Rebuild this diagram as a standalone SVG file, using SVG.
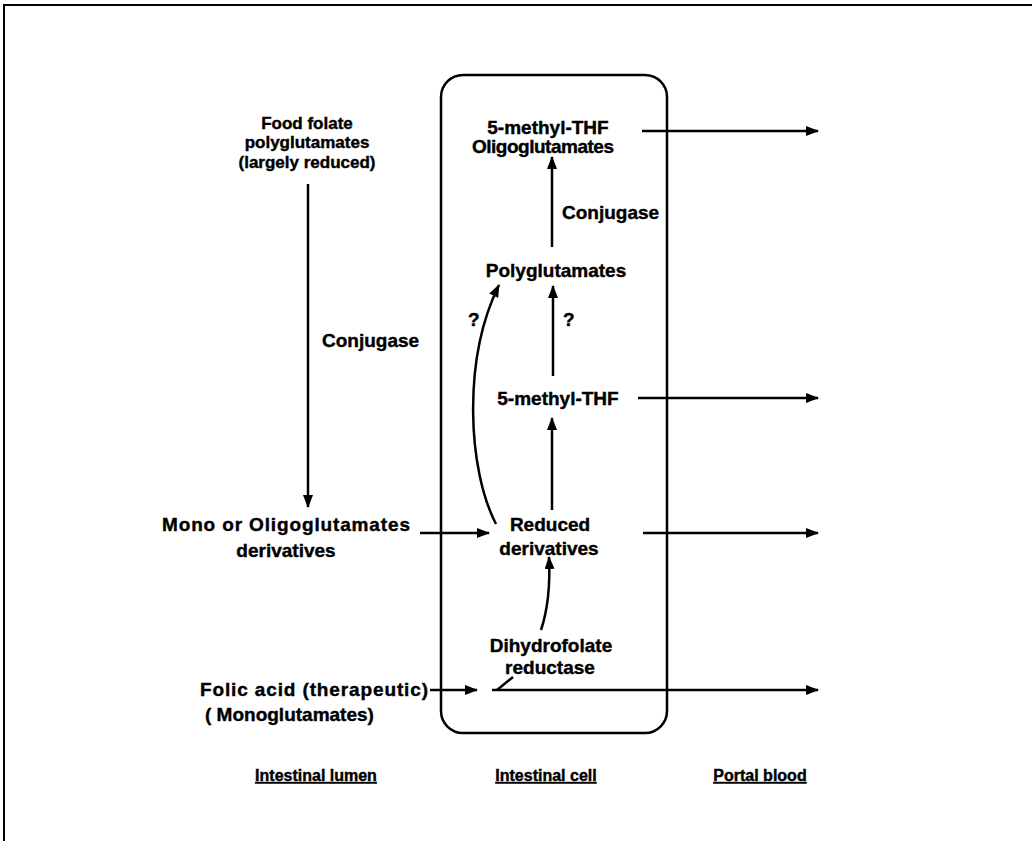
<svg xmlns="http://www.w3.org/2000/svg" width="1032" height="841" viewBox="0 0 1032 841">
<defs>
<marker id="ah" markerUnits="userSpaceOnUse" markerWidth="14" markerHeight="12" refX="12" refY="5" orient="auto">
<path d="M0,0 L13,5 L0,10 Z" fill="#000"/>
</marker>
<style>
text{font-family:"Liberation Sans",Arial,sans-serif;font-weight:bold;font-size:19px;fill:#000;stroke:#000;stroke-width:0.4}
.s{font-size:17px}
.c{text-anchor:middle}
.e{text-anchor:end}
.ln{stroke:#000;stroke-width:2.5;fill:none}
.ar{stroke:#000;stroke-width:2.5;fill:none;marker-end:url(#ah)}
.lab{font-size:16px;text-decoration:underline;text-anchor:middle}
</style>
</defs>
<rect width="1032" height="841" fill="#fff"/>
<path d="M4,841 V5 H1032" stroke="#000" stroke-width="2" fill="none"/>
<g id="cell-box"><rect x="441" y="75" width="226" height="658" rx="22" ry="22" class="ln"/></g>
<g id="connectors">
<line x1="308" y1="184" x2="308" y2="507" class="ar"/>
<line x1="420" y1="533" x2="489" y2="533" class="ar"/>
<line x1="643" y1="533" x2="818" y2="533" class="ar"/>
<line x1="642" y1="131" x2="818" y2="131" class="ar"/>
<line x1="552" y1="247" x2="552" y2="157" class="ar"/>
<line x1="553" y1="376" x2="553" y2="286" class="ar"/>
<path d="M496,524 C468,470 462,360 499,285" class="ar"/>
<line x1="638" y1="398" x2="818" y2="398" class="ar"/>
<line x1="552" y1="510" x2="552" y2="418" class="ar"/>
<path d="M541,630 Q551,600 549,557" class="ar"/>
<line x1="430" y1="690" x2="477" y2="690" class="ar"/>
<line x1="492" y1="690" x2="818" y2="690" class="ar"/>
<line x1="497" y1="690" x2="513" y2="677" class="ln"/>
</g>
<g id="food-folate"><text x="307" y="129" class="c s">Food folate</text><text x="307" y="148" class="c s">polyglutamates</text><text x="307" y="168" class="c s">(largely reduced)</text></g>
<g id="conjugase-lumen"><text x="322" y="347">Conjugase</text></g>
<g id="mono-oligo"><text x="286" y="531" class="c" textLength="248">Mono or Oligoglutamates</text><text x="286" y="557" class="c">derivatives</text></g>
<g id="folic-acid"><text x="428" y="696" class="e" textLength="228">Folic acid (therapeutic)</text><text x="205" y="721">( Monoglutamates)</text></g>
<g id="mthf-oligo"><text x="548" y="134" class="c">5-methyl-THF</text><text x="543" y="153" class="c" textLength="142">Oligoglutamates</text></g>
<g id="conjugase-cell"><text x="562" y="219">Conjugase</text></g>
<g id="polyglutamates"><text x="556" y="277" class="c">Polyglutamates</text></g>
<g id="q-left"><text x="468" y="326">?</text></g>
<g id="q-right"><text x="563" y="326">?</text></g>
<g id="mthf"><text x="558" y="405" class="c">5-methyl-THF</text></g>
<g id="reduced"><text x="550" y="531" class="c">Reduced</text><text x="549" y="555" class="c">derivatives</text></g>
<g id="dhfr"><text x="551" y="652" class="c">Dihydrofolate</text><text x="550" y="674" class="c">reductase</text></g>
<g id="labels"><text x="316" y="781" class="lab">Intestinal lumen</text><text x="546" y="781" class="lab">Intestinal cell</text><text x="760" y="781" class="lab">Portal blood</text></g>
</svg>
